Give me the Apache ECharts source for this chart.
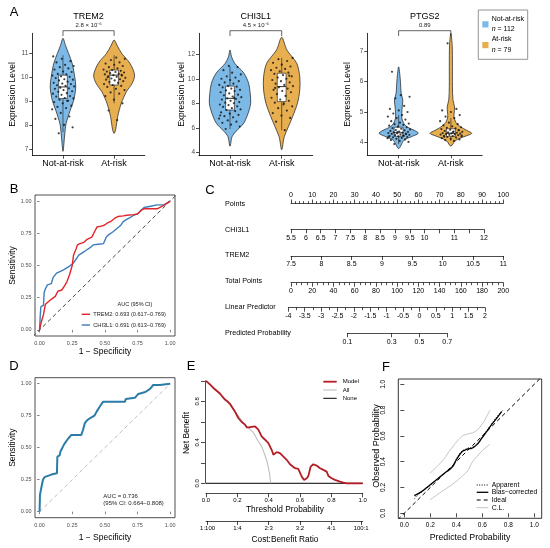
<!DOCTYPE html>
<html>
<head>
<meta charset="utf-8">
<script src="https://cdn.jsdelivr.net/npm/echarts@6.0.0/dist/echarts.min.js"></script>
<style>
  html, body { margin: 0; padding: 0; background: #fff; }
  #chart { width: 550px; height: 548px; }
</style>
</head>
<body>
<div id="chart"></div>
<script>
// ---------- data: panel A (violins) ----------
var groups = ["Not-at-risk", "At-risk"];
var groupN = [112, 79];
var genes = ["TREM2", "CHI3L1", "PTGS2"];
var pValues = ["2.8 × 10⁻⁶", "4.5 × 10⁻⁶", "0.89"];
var exprTicks = [[7, 8, 9, 10, 11], [4, 6, 8, 10, 12], [4, 5, 6, 7]];
var exprRange = [[6.72, 11.81], [3.72, 13.71], [3.58, 7.58]];

// density outline: [expression, half width (category units)]
var trem2NotDensity = [[6.9,0],[7.5,0.03],[8.05,0.06],[8.6,0.14],[9.03,0.21],[9.58,0.25],[10.0,0.23],[10.56,0.18],[10.97,0.11],[11.3,0.05],[11.6,0]];
var trem2AtDensity = [[7.65,0],[7.8,0.03],[8.35,0.07],[8.9,0.14],[9.38,0.24],[9.72,0.35],[10.07,0.4],[10.56,0.31],[10.97,0.15],[11.3,0.06],[11.53,0]];
var chi3l1NotDensity = [[4.5,0],[5.27,0.04],[5.68,0.11],[6.37,0.265],[7.18,0.35],[8.0,0.4],[8.82,0.39],[9.63,0.36],[10.45,0.27],[11.27,0.09],[11.8,0.03],[12.35,0]];
var chi3l1AtDensity = [[4.2,0],[5.27,0.05],[6.09,0.13],[6.9,0.21],[8.0,0.305],[9.09,0.35],[10.17,0.35],[11.27,0.29],[12.35,0.1],[13.39,0]];
var ptgs2NotDensity = [[3.8,0],[4.07,0.1],[4.18,0.23],[4.3,0.375],[4.4,0.3],[4.5,0.17],[4.62,0.1],[4.8,0.06],[4.95,0.06],[5.2,0.07],[5.39,0.08],[5.6,0.05],[5.83,0.04],[6.1,0.03],[6.48,0]];
var ptgs2AtDensity = [[3.88,0],[4.05,0.08],[4.13,0.16],[4.22,0.3],[4.3,0.4],[4.4,0.3],[4.51,0.19],[4.65,0.1],[4.84,0.06],[5.0,0.065],[5.17,0.07],[5.4,0.04],[5.83,0.03],[6.5,0.03],[7.2,0.025],[7.58,0]];

// box stats: [low whisker, q1, median, q3, high whisker]
var trem2Box = [[7.7, 9.1, 9.58, 10.07, 10.9], [8.9, 9.66, 10.07, 10.28, 10.9]];
var chi3l1Box = [[5.9, 7.45, 8.4, 9.4, 11.0], [5.8, 8.14, 9.36, 10.45, 11.7]];
var ptgs2Box = [[3.95, 4.2, 4.32, 4.5, 4.9], [4.05, 4.2, 4.3, 4.45, 4.8]];

var trem2NotPts = [7.65, 7.9, 8.0, 8.25, 8.35, 8.5, 8.65, 8.7, 8.75, 8.8, 8.9, 8.95, 9.0, 9.05, 9.1, 9.12, 9.18, 9.2, 9.25, 9.3, 9.32, 9.38, 9.4, 9.45, 9.5, 9.52, 9.55, 9.6, 9.62, 9.65, 9.7, 9.72, 9.75, 9.8, 9.85, 9.88, 9.9, 9.95, 10.0, 10.02, 10.05, 10.1, 10.12, 10.2, 10.22, 10.3, 10.35, 10.4, 10.45, 10.5, 10.6, 10.65, 10.75, 10.85, 9.0];
var trem2AtPts = [8.2, 8.6, 8.9, 9.05, 9.2, 9.3, 9.35, 9.45, 9.5, 9.58, 9.62, 9.66, 9.7, 9.75, 9.78, 9.82, 9.85, 9.88, 9.9, 9.93, 9.96, 10.0, 10.02, 10.05, 10.07, 10.1, 10.12, 10.15, 10.18, 10.2, 10.22, 10.25, 10.28, 10.3, 10.35, 10.4, 10.45, 10.5, 10.55, 10.6, 10.7, 10.75, 10.8, 9.98, 10.08];
var chi3l1NotPts = [5.9, 6.1, 6.25, 6.4, 6.5, 6.6, 6.75, 6.85, 6.95, 7.05, 7.15, 7.25, 7.35, 7.45, 7.5, 7.6, 7.7, 7.75, 7.85, 7.9, 8.0, 8.05, 8.1, 8.2, 8.3, 8.35, 8.4, 8.5, 8.55, 8.65, 8.7, 8.8, 8.9, 9.0, 9.05, 9.1, 9.2, 9.3, 9.35, 9.4, 9.5, 9.6, 9.7, 9.8, 9.9, 10.0, 10.1, 10.2, 10.35, 10.5, 10.7, 10.95, 11.05, 7.0, 8.45];
var chi3l1AtPts = [5.8, 6.5, 6.8, 7.0, 7.2, 7.4, 7.6, 7.75, 7.9, 8.05, 8.2, 8.3, 8.45, 8.6, 8.75, 8.9, 9.0, 9.1, 9.2, 9.3, 9.4, 9.5, 9.6, 9.7, 9.8, 9.9, 10.0, 10.1, 10.2, 10.3, 10.4, 10.5, 10.6, 10.7, 10.8, 10.9, 11.0, 11.15, 11.3, 11.45, 11.6, 11.7, 8.0, 9.25, 10.25];
var ptgs2NotPts = [3.95, 4.02, 4.05, 4.08, 4.1, 4.12, 4.14, 4.15, 4.17, 4.18, 4.2, 4.21, 4.22, 4.24, 4.25, 4.26, 4.28, 4.29, 4.3, 4.31, 4.32, 4.33, 4.35, 4.36, 4.38, 4.4, 4.41, 4.43, 4.45, 4.47, 4.5, 4.52, 4.55, 4.58, 4.6, 4.62, 4.65, 4.7, 4.75, 4.8, 4.85, 4.9, 4.95, 5.0, 5.05, 5.1, 5.2, 5.45, 5.5, 5.55, 6.32, 4.27, 4.34, 4.19, 4.23];
var ptgs2AtPts = [4.05, 4.08, 4.1, 4.12, 4.14, 4.16, 4.18, 4.2, 4.21, 4.22, 4.24, 4.25, 4.26, 4.27, 4.28, 4.29, 4.3, 4.31, 4.32, 4.33, 4.35, 4.36, 4.38, 4.4, 4.42, 4.44, 4.46, 4.48, 4.5, 4.53, 4.56, 4.6, 4.65, 4.7, 4.8, 4.85, 4.9, 5.0, 5.05, 5.1, 7.25, 4.23, 4.34, 4.19, 4.41];

// ---------- data: panel B / D (ROC) ----------
var rocTicks = [0, 0.25, 0.5, 0.75, 1];
var rocNames = ["TREM2", "CHI3L1"];
var rocAuc = ["0.693 (0.617−0.769)", "0.691 (0.613−0.769)"];
var trem2Roc = [[0,0],[0.01,0.05],[0.03,0.12],[0.045,0.2],[0.06,0.21],[0.08,0.23],[0.1,0.245],[0.12,0.26],[0.14,0.3],[0.17,0.31],[0.19,0.34],[0.21,0.375],[0.23,0.43],[0.25,0.5],[0.26,0.58],[0.28,0.63],[0.29,0.66],[0.31,0.67],[0.34,0.68],[0.36,0.7],[0.4,0.72],[0.42,0.76],[0.44,0.8],[0.47,0.805],[0.49,0.81],[0.52,0.83],[0.55,0.845],[0.58,0.87],[0.6,0.88],[0.64,0.885],[0.67,0.89],[0.72,0.895],[0.75,0.9],[0.78,0.93],[0.8,0.94],[0.9,0.94],[0.94,0.96],[0.97,0.98],[1,1]];
var chi3l1Roc = [[0,0],[0.005,0.11],[0.01,0.18],[0.03,0.19],[0.035,0.29],[0.045,0.32],[0.06,0.35],[0.09,0.36],[0.105,0.41],[0.13,0.44],[0.16,0.455],[0.19,0.47],[0.23,0.495],[0.26,0.52],[0.28,0.55],[0.3,0.58],[0.33,0.6],[0.36,0.62],[0.39,0.64],[0.41,0.66],[0.45,0.665],[0.49,0.67],[0.51,0.72],[0.53,0.74],[0.56,0.76],[0.59,0.785],[0.62,0.81],[0.64,0.84],[0.67,0.86],[0.69,0.87],[0.72,0.89],[0.75,0.9],[0.78,0.93],[0.8,0.95],[0.85,0.96],[0.9,0.97],[0.95,0.97],[0.97,0.98],[1,1]];
var modelRoc = [[0,0],[0.003,0.13],[0.01,0.17],[0.018,0.21],[0.026,0.25],[0.038,0.27],[0.064,0.28],[0.09,0.29],[0.133,0.3],[0.136,0.43],[0.154,0.44],[0.16,0.47],[0.18,0.51],[0.19,0.53],[0.205,0.545],[0.218,0.57],[0.244,0.6],[0.32,0.6],[0.333,0.64],[0.346,0.69],[0.36,0.71],[0.385,0.73],[0.42,0.75],[0.436,0.78],[0.46,0.82],[0.487,0.86],[0.654,0.86],[0.66,0.88],[0.73,0.89],[0.756,0.92],[0.81,0.935],[0.846,0.96],[0.87,0.99],[0.92,0.99],[1,1]];
var modelAucText = ["AUC = 0.736", "(95% CI: 0.664−0.808)"];

// ---------- data: panel C (nomogram) ----------
var nomoLabels = ["Points", "CHI3L1", "TREM2", "Total Points", "Linear Predictor", "Predicted Probability"];
var pointsRange = [0, 100];
var chi3l1Range = [5.5, 12];
var chi3l1Labels = [5.5, 6, 6.5, 7, 7.5, 8, 8.5, 9, 9.5, 10, 11, 12];
var trem2Range = [7.5, 11];
var totalRange = [0, 200];
var lpRange = [-4, 2];
var probTicks = [0.1, 0.3, 0.5, 0.7];

// ---------- data: panel E (decision curve) ----------
var dcaModel = [[0,1.0],[0.025,0.965],[0.047,0.93],[0.07,0.9],[0.089,0.876],[0.105,0.845],[0.121,0.817],[0.14,0.795],[0.153,0.775],[0.17,0.735],[0.185,0.7],[0.206,0.637],[0.228,0.598],[0.249,0.572],[0.26,0.546],[0.275,0.545],[0.29,0.55],[0.313,0.556],[0.334,0.523],[0.355,0.458],[0.377,0.425],[0.398,0.392],[0.419,0.327],[0.43,0.278],[0.451,0.304],[0.472,0.294],[0.494,0.261],[0.515,0.229],[0.536,0.186],[0.568,0.147],[0.589,0.14],[0.611,0.065],[0.626,0.033],[0.643,0.049],[0.653,0.072],[0.668,0.163],[0.685,0.186],[0.706,0.173],[0.728,0.147],[0.749,0.131],[0.77,0.114],[0.781,0.072],[0.802,0.049],[0.823,0.033],[0.855,0.016],[0.877,0.007],[0.9,0],[1,0]];
var dcaAll = [[0,1.0],[0.05,0.93],[0.1,0.85],[0.15,0.77],[0.2,0.67],[0.24,0.585],[0.27,0.54],[0.3,0.5],[0.33,0.42],[0.355,0.36],[0.375,0.28],[0.39,0.21],[0.405,0.1],[0.413,0]];
var dcaNone = [[0,0],[1,0]];
var dcaXTicks = [0, 0.2, 0.4, 0.6, 0.8, 1];
var dcaYTicks = [0, 0.2, 0.4, 0.6, 0.8, 1];
var dcaYLabels = [0, 0.4, 0.8];
var costBenefit = ["1:100", "1:4", "2:3", "3:2", "4:1", "100:1"];
var dcaNames = ["Model", "All", "None"];

// ---------- data: panel F (calibration) ----------
var calTicks = [0, 0.2, 0.4, 0.6, 0.8, 1];
var calApparent = [[0.077,0.11],[0.1,0.14],[0.133,0.165],[0.197,0.215],[0.26,0.27],[0.326,0.325],[0.37,0.365],[0.4,0.42],[0.44,0.478],[0.467,0.495],[0.49,0.505],[0.518,0.51],[0.556,0.535],[0.595,0.585],[0.633,0.64],[0.67,0.69],[0.71,0.745],[0.76,0.8]];
var calBias = [[0.077,0.137],[0.133,0.168],[0.197,0.22],[0.26,0.27],[0.326,0.323],[0.37,0.36],[0.4,0.413],[0.44,0.473],[0.467,0.49],[0.49,0.5],[0.518,0.504],[0.556,0.53],[0.595,0.58],[0.633,0.633],[0.67,0.685],[0.71,0.736],[0.749,0.788]];
var calUpper = [[0.197,0.31],[0.287,0.4],[0.364,0.504],[0.441,0.594],[0.48,0.612],[0.544,0.633],[0.595,0.685],[0.633,0.749],[0.659,0.8]];
var calLower = [[0.197,0.103],[0.287,0.168],[0.364,0.22],[0.441,0.284],[0.492,0.336],[0.518,0.388],[0.569,0.452],[0.621,0.504],[0.659,0.535]];
var calIdeal = [[-0.05,-0.05],[1.05,1.05]];
var calNames = ["Apparent", "Bias−corrected", "Ideal", "C.L."];

// ---------------------------------------------------------------
var FONT = '"Liberation Sans", Arial, sans-serif';
var BLUE = "#7DB9E6", ORANGE = "#E8AF50";
var chart = echarts.init(document.getElementById("chart"), null, { renderer: "canvas" });

var grids = [], xAxes = [], yAxes = [], series = [], graphics = [];

function addGrid(g, xa, ya) {
  grids.push(Object.assign({ containLabel: false, outerBoundsMode: "none" }, g));
  var i = grids.length - 1;
  xAxes.push(Object.assign({ gridIndex: i, splitLine: { show: false } }, xa));
  yAxes.push(Object.assign({ gridIndex: i, splitLine: { show: false } }, ya));
  return i;
}
function hiddenAxis(min, max) { return { type: "value", show: false, min: min, max: max }; }
function txt(s, x, y, size, opt) {
  opt = opt || {};
  var al = opt.align || "center";
  return {
    type: "text", x: x, y: y, rotation: opt.rot || 0, z: 100,
    style: { text: s, fontSize: size, fontFamily: FONT, fill: opt.color || "#000",
      textAlign: al, align: al, textVerticalAlign: "middle", verticalAlign: "middle",
      fontStyle: opt.italic ? "italic" : "normal", rich: opt.rich }
  };
}
function seg(x1, y1, x2, y2, color, width, dash) {
  return { type: "line", z: 100, shape: { x1: x1, y1: y1, x2: x2, y2: y2 },
    style: { stroke: color, lineWidth: width, lineDash: dash || null } };
}
function jitter(i) { var f = (i * 0.6180339887 + 0.31) % 1; return (f - 0.5) * 0.44; }

// ---------- panel A ----------
var layoutA = [
  { left: 32.3, top: 33.3, width: 112.5, height: 122.4 },
  { left: 199, top: 33.3, width: 113.7, height: 122.4 },
  { left: 367.3, top: 33.3, width: 114.9, height: 122 }
];
var violinDensity = [[trem2NotDensity, trem2AtDensity], [chi3l1NotDensity, chi3l1AtDensity], [ptgs2NotDensity, ptgs2AtDensity]];
var violinBox = [trem2Box, chi3l1Box, ptgs2Box];
var violinPts = [[trem2NotPts, trem2AtPts], [chi3l1NotPts, chi3l1AtPts], [ptgs2NotPts, ptgs2AtPts]];
var fills = [BLUE, ORANGE];
var axLine = { show: true, onZero: false, lineStyle: { color: "#000", width: 0.8 } };

genes.forEach(function (gene, g) {
  var gi = addGrid(layoutA[g], {
    type: "value", min: 0.4, max: 2.6,
    axisLine: axLine,
    axisTick: { show: true, customValues: [1, 2], length: 3, lineStyle: { color: "#000", width: 0.7 } },
    axisLabel: { customValues: [1, 2], formatter: function (v) { return groups[Math.round(v) - 1]; },
      fontSize: 9, color: "#000", margin: 3.5, fontFamily: FONT }
  }, {
    type: "value", min: exprRange[g][0], max: exprRange[g][1],
    axisLine: axLine,
    axisTick: { show: true, customValues: exprTicks[g], length: 3, lineStyle: { color: "#000", width: 0.7 } },
    axisLabel: { customValues: exprTicks[g], fontSize: 6.5, color: "#4D4D4D", margin: 4, fontFamily: FONT }
  });

  var dens = violinDensity[g];
  series.push({
    type: "custom", xAxisIndex: gi, yAxisIndex: gi, z: 2, silent: true,
    data: [[1], [2]],
    renderItem: function (params, api) {
      var k = api.value(0) - 1, d = dens[k], pts = [], i;
      for (i = 0; i < d.length; i++) pts.push(api.coord([k + 1 + d[i][1], d[i][0]]));
      for (i = d.length - 2; i >= 1; i--) pts.push(api.coord([k + 1 - d[i][1], d[i][0]]));
      return { type: "polygon", shape: { points: pts, smooth: 0.3 },
        style: { fill: fills[k], stroke: "#1a1a1a", lineWidth: 0.7 } };
    }
  });

  var boxes = violinBox[g];
  series.push({
    type: "custom", xAxisIndex: gi, yAxisIndex: gi, z: 3, silent: true,
    data: [[1], [2]],
    renderItem: function (params, api) {
      var k = api.value(0) - 1, b = boxes[k], c = k + 1, hw = 0.085;
      var lo = api.coord([c, b[0]]), q1 = api.coord([c, b[1]]), md = api.coord([c, b[2]]),
          q3 = api.coord([c, b[3]]), hi = api.coord([c, b[4]]);
      var l = api.coord([c - hw, b[2]])[0], r = api.coord([c + hw, b[2]])[0];
      var st = { stroke: "#1a1a1a", lineWidth: 0.6 };
      return { type: "group", children: [
        { type: "line", shape: { x1: lo[0], y1: lo[1], x2: q1[0], y2: q1[1] }, style: st },
        { type: "line", shape: { x1: q3[0], y1: q3[1], x2: hi[0], y2: hi[1] }, style: st },
        { type: "rect", shape: { x: l, y: q3[1], width: r - l, height: q1[1] - q3[1] },
          style: { stroke: "#1a1a1a", lineWidth: 0.6, fill: "#fff" } },
        { type: "line", shape: { x1: l, y1: md[1], x2: r, y2: md[1] }, style: { stroke: "#1a1a1a", lineWidth: 0.9 } }
      ] };
    }
  });

  var pts = [];
  violinPts[g].forEach(function (vals, k) {
    vals.forEach(function (v, i) { pts.push([k + 1 + jitter(i + 7 * k), v]); });
  });
  series.push({
    type: "scatter", xAxisIndex: gi, yAxisIndex: gi, z: 4, silent: true,
    symbolSize: 2.2, itemStyle: { color: "#111" }, data: pts
  });

  var label = pValues[g];
  series.push({
    type: "custom", xAxisIndex: gi, yAxisIndex: gi, z: 5, silent: true, clip: false,
    data: [[exprRange[g][1]]],
    renderItem: function (params, api) {
      var a = api.coord([1, api.value(0)]), b = api.coord([2, api.value(0)]);
      var y = a[1] - 2.6;
      return { type: "group", children: [
        { type: "polyline", shape: { points: [[a[0], y + 5.3], [a[0], y], [b[0], y], [b[0], y + 5.3]] },
          style: { stroke: "#222", lineWidth: 0.7, fill: null } },
        { type: "text", style: { text: label, x: (a[0] + b[0]) / 2, y: y - 5.3, fontSize: 6, fontFamily: FONT,
          fill: "#222", textAlign: "center", align: "center", textVerticalAlign: "middle", verticalAlign: "middle" } }
      ] };
    }
  });

  var lay = layoutA[g];
  graphics.push(txt(gene, lay.left + lay.width / 2, 16.3, 9));
});
graphics.push(txt("Expression Level", 13, 94.5, 8.5, { rot: Math.PI / 2 }));
graphics.push(txt("Expression Level", 181.5, 94.5, 8.5, { rot: Math.PI / 2 }));
graphics.push(txt("Expression Level", 348, 94.5, 8.5, { rot: Math.PI / 2 }));

// legend A
graphics.push({ type: "rect", z: 99, shape: { x: 478.3, y: 10, width: 49.4, height: 49.3 },
  style: { fill: "#fff", stroke: "#777", lineWidth: 0.8 } });
[BLUE, ORANGE].forEach(function (c, k) {
  var y0 = k === 0 ? 21.3 : 42;
  graphics.push({ type: "rect", z: 100, shape: { x: 482.3, y: y0, width: 6.2, height: 6.2 }, style: { fill: c } });
  graphics.push(txt(groups[k], 491.7, y0 - 2.6, 7, { align: "left" }));
  graphics.push(txt("{i|n} = " + groupN[k], 491.7, y0 + 8, 7, { align: "left",
    rich: { i: { fontStyle: "italic", fontSize: 7, fontFamily: FONT, fill: "#000" } } }));
});

// ---------- panel B and D ----------
function rocAxes(box) {
  return addGrid(Object.assign({ show: true, borderColor: "#222", borderWidth: 0.8, backgroundColor: "transparent" }, box), {
    type: "value", min: -0.035, max: 1.037, axisLine: { show: false },
    axisTick: { show: true, customValues: rocTicks, length: 2.5, lineStyle: { color: "#333", width: 0.6 } },
    axisLabel: { customValues: rocTicks, formatter: function (v) { return v.toFixed(2); },
      fontSize: 5.5, color: "#4D4D4D", margin: 4.5, fontFamily: FONT }
  }, {
    type: "value", min: -0.047, max: 1.047, axisLine: { show: false },
    axisTick: { show: true, customValues: rocTicks, length: 2.5, lineStyle: { color: "#333", width: 0.6 } },
    axisLabel: { customValues: rocTicks, formatter: function (v) { return v.toFixed(2); },
      fontSize: 5.5, color: "#4D4D4D", margin: 3.5, fontFamily: FONT }
  });
}
function lineSeries(gi, data, color, width, type, extra) {
  return Object.assign({ type: "line", xAxisIndex: gi, yAxisIndex: gi, data: data, symbol: "none",
    showSymbol: false, silent: true, lineStyle: { color: color, width: width, type: type || "solid" } }, extra || {});
}
var gB = rocAxes({ left: 35, top: 195, width: 140, height: 141 });
series.push(lineSeries(gB, [[-0.05, -0.05], [1.05, 1.05]], "#444", 1, [4, 3]));
series.push(lineSeries(gB, chi3l1Roc, "#3C7DBB", 1.4));
series.push(lineSeries(gB, trem2Roc, "#E3242B", 1.4));
graphics.push(txt("Sensitivity", 13, 265.5, 8.5, { rot: Math.PI / 2 }));
graphics.push(txt("1 − Specificity", 105, 351.7, 8.5));
graphics.push(txt("AUC (95% CI)", 135, 304, 5.5, { color: "#222" }));
["#E3242B", "#3C7DBB"].forEach(function (c, k) {
  var y = k === 0 ? 314.3 : 325;
  graphics.push(seg(81.7, y, 90, y, c, 1.4));
  graphics.push(txt(rocNames[k] + ": " + rocAuc[k], 93.3, y, 5.6, { align: "left", color: "#222" }));
});

var gD = rocAxes({ left: 35, top: 377.7, width: 140, height: 140 });
series.push(lineSeries(gD, [[0, 0], [1, 1]], "#BDBDBD", 1, [4, 3]));
series.push(lineSeries(gD, modelRoc, "#2B7CA8", 2));
graphics.push(txt("Sensitivity", 13, 447.7, 8.5, { rot: Math.PI / 2 }));
graphics.push(txt("1 − Specificity", 105, 537.7, 8.5));
graphics.push(txt(modelAucText[0], 103.3, 496.7, 6, { align: "left", color: "#222" }));
graphics.push(txt(modelAucText[1], 103.3, 503.8, 6, { align: "left", color: "#222" }));

// ---------- panel C: nomogram ----------
var nomoTick = { color: "#000", width: 0.7 };
function nomoRow(left, width, lineY, pos, xa) {
  var g = pos === "top" ? { left: left, width: width, top: lineY, height: 1 }
                        : { left: left, width: width, top: lineY - 1, height: 1 };
  return addGrid(g, Object.assign({
    type: "value", position: pos,
    axisLine: { show: true, onZero: false, lineStyle: nomoTick },
    axisLabel: { fontSize: 7, color: "#000", margin: 5, fontFamily: FONT, showMinLabel: true, showMaxLabel: true }
  }, xa), hiddenAxis(0, 1));
}
nomoRow(291, 212.3, 203.5, "top", {
  min: pointsRange[0], max: pointsRange[1], interval: 10,
  axisTick: { show: true, length: 4, lineStyle: nomoTick },
  minorTick: { show: true, splitNumber: 5, length: 2.3, lineStyle: nomoTick }
});
nomoRow(291, 193, 229.3, "bottom", {
  min: chi3l1Range[0], max: chi3l1Range[1], interval: 0.5,
  axisTick: { show: true, length: 4, lineStyle: nomoTick },
  axisLabel: { customValues: chi3l1Labels, fontSize: 7, color: "#000", margin: 5.5, fontFamily: FONT }
});
nomoRow(291, 212.3, 256, "bottom", {
  min: trem2Range[0], max: trem2Range[1], interval: 0.5,
  axisTick: { show: true, length: 4, lineStyle: nomoTick }
});
nomoRow(291, 212.3, 282.7, "bottom", {
  min: totalRange[0], max: totalRange[1], interval: 20,
  axisTick: { show: true, length: 4, lineStyle: nomoTick },
  minorTick: { show: true, splitNumber: 4, length: 2.5, lineStyle: nomoTick }
});
var lpLeft = 288.3, lpWidth = 196.7;
nomoRow(lpLeft, lpWidth, 307.7, "bottom", {
  min: lpRange[0], max: lpRange[1], interval: 0.5,
  axisTick: { show: true, length: 4, lineStyle: nomoTick },
  minorTick: { show: true, splitNumber: 2, length: 2.5, lineStyle: nomoTick },
  axisLabel: { fontSize: 7, color: "#000", margin: 5, fontFamily: FONT, showMinLabel: true, showMaxLabel: true,
    formatter: function (v) { return String(Math.round(v * 10) / 10); } }
});
function logit(p) { return Math.log(p / (1 - p)); }
var probLp = probTicks.map(logit);
var lpPx = function (v) { return lpLeft + (v - lpRange[0]) / (lpRange[1] - lpRange[0]) * lpWidth; };
var probLeft = lpPx(probLp[0]), probRight = lpPx(probLp[probLp.length - 1]);
nomoRow(probLeft, probRight - probLeft, 333.3, "bottom", {
  min: probLp[0], max: probLp[probLp.length - 1],
  axisTick: { show: true, length: 4, customValues: probLp, lineStyle: nomoTick },
  axisLabel: { customValues: probLp, fontSize: 7, color: "#000", margin: 5, fontFamily: FONT,
    formatter: function (v) { var p = 1 / (1 + Math.exp(-v)); return (Math.round(p * 10) / 10).toFixed(1); } }
});
var nomoLabelY = [204, 230, 255.5, 281.7, 307.2, 333];
nomoLabels.forEach(function (s, i) { graphics.push(txt(s, 225, nomoLabelY[i] - 0.3, 7.2, { align: "left" })); });

// ---------- panel E: decision curve ----------
var eLeft = 206, eWidth = 156.7;
var gE = addGrid({ left: eLeft, width: eWidth, top: 376.7, height: 116.6 },
  hiddenAxis(0, 1), hiddenAxis(-0.0976, 1.04));
series.push(lineSeries(gE, dcaNone, "#000", 1));
series.push(lineSeries(gE, dcaAll, "#BDBDBD", 1.1));
series.push(lineSeries(gE, dcaModel, "#B51D24", 1.8));
var eTick = { color: "#000", width: 0.7 };
addGrid({ left: 205, width: eWidth, top: 380.8, height: 102.5 }, hiddenAxis(0, 1), {
  type: "value", min: 0, max: 1,
  axisLine: { show: true, onZero: false, lineStyle: eTick },
  axisTick: { show: true, customValues: dcaYTicks, length: 4, lineStyle: eTick },
  axisLabel: { customValues: dcaYLabels, rotate: 90, fontSize: 6, color: "#000", margin: 4.5, fontFamily: FONT,
    formatter: function (v) { return v.toFixed(1); } }
});
addGrid({ left: eLeft, width: eWidth, top: 492.3, height: 1 }, {
  type: "value", min: 0, max: 1, position: "bottom",
  axisLine: { show: true, onZero: false, lineStyle: eTick },
  axisTick: { show: true, customValues: dcaXTicks, length: 4, lineStyle: eTick },
  axisLabel: { customValues: dcaXTicks, fontSize: 6, color: "#000", margin: 4, fontFamily: FONT,
    formatter: function (v) { return v.toFixed(1); } }
}, hiddenAxis(0, 1));
var cbPos = costBenefit.map(function (s) { var a = s.split(":"); return +a[0] / (+a[0] + +a[1]); });
addGrid({ left: eLeft, width: eWidth, top: 520, height: 1 }, {
  type: "value", min: 0, max: 1, position: "bottom",
  axisLine: { show: true, onZero: false, lineStyle: eTick },
  axisTick: { show: true, customValues: cbPos, length: 4, lineStyle: eTick },
  axisLabel: { customValues: cbPos, fontSize: 6, color: "#000", margin: 4.3, fontFamily: FONT,
    formatter: function (v) { return costBenefit[cbPos.indexOf(v)] || costBenefit[0]; } }
}, hiddenAxis(0, 1));
graphics.push(txt("Net Benefit", 187, 433, 8.5, { rot: Math.PI / 2 }));
graphics.push(txt("Threshold Probability", 285, 509.3, 8.3));
graphics.push(txt("Cost:Benefit Ratio", 285, 539.3, 8.3));
[["#B51D24", 1.8], ["#BDBDBD", 1.1], ["#000", 1]].forEach(function (st, k) {
  var y = 381.7 + k * 8.3;
  graphics.push(seg(323.3, y, 336.7, y, st[0], st[1]));
  graphics.push(txt(dcaNames[k], 342.7, y, 6, { align: "left" }));
});

// ---------- panel F: calibration ----------
var fTick = { color: "#000", width: 0.7 };
var gF = addGrid({ left: 398.3, top: 379, width: 143.4, height: 139.3, show: true, borderColor: "#000", borderWidth: 0.8, backgroundColor: "transparent" }, {
  type: "value", min: -0.046, max: 1.057, axisLine: { show: false },
  axisTick: { show: true, customValues: calTicks, length: 4, lineStyle: fTick },
  axisLabel: { customValues: calTicks, fontSize: 6.5, color: "#000", margin: 3.5, fontFamily: FONT,
    formatter: function (v) { return v.toFixed(1); } }
}, {
  type: "value", min: -0.039, max: 1.041, axisLine: { show: false },
  axisTick: { show: true, customValues: calTicks, length: 4, lineStyle: fTick },
  axisLabel: { customValues: calTicks, rotate: 90, fontSize: 6.5, color: "#000", margin: 12, fontFamily: FONT,
    formatter: function (v) { return v.toFixed(1); } }
});
series.push(lineSeries(gF, calUpper, "#C4C4C4", 1, "solid", { smooth: true }));
series.push(lineSeries(gF, calLower, "#C4C4C4", 1, "solid", { smooth: true }));
series.push(lineSeries(gF, calIdeal, "#000", 1, [4, 3]));
series.push(lineSeries(gF, calApparent, "#000", 1, [1, 1.5], { smooth: true }));
series.push(lineSeries(gF, calBias, "#000", 1.3, "solid", { smooth: true }));
graphics.push(txt("Observed Probability", 376.7, 446, 9, { rot: Math.PI / 2 }));
graphics.push(txt("Predicted Probability", 470, 537.7, 8.8));
[["#000", 1, [1, 1.5]], ["#000", 1.3, null], ["#000", 1, [4, 3]], ["#C4C4C4", 1, null]].forEach(function (st, k) {
  var y = [485, 492.3, 500, 507.7][k];
  graphics.push(seg(476.7, y, 488.3, y, st[0], st[1], st[2]));
  graphics.push(txt(calNames[k], 491.7, y, 6.8, { align: "left" }));
});

// panel letters
[["A", 14, 12.5], ["B", 14, 189], ["C", 210, 190], ["D", 14, 366.7], ["E", 191, 366.7], ["F", 386, 367.5]].forEach(function (l) {
  graphics.push(txt(l[0], l[1], l[2], 13));
});

chart.setOption({
  animation: false,
  backgroundColor: "#fff",
  textStyle: { fontFamily: FONT },
  grid: grids,
  xAxis: xAxes,
  yAxis: yAxes,
  series: series,
  graphic: { elements: graphics }
});
</script>
</body>
</html>
